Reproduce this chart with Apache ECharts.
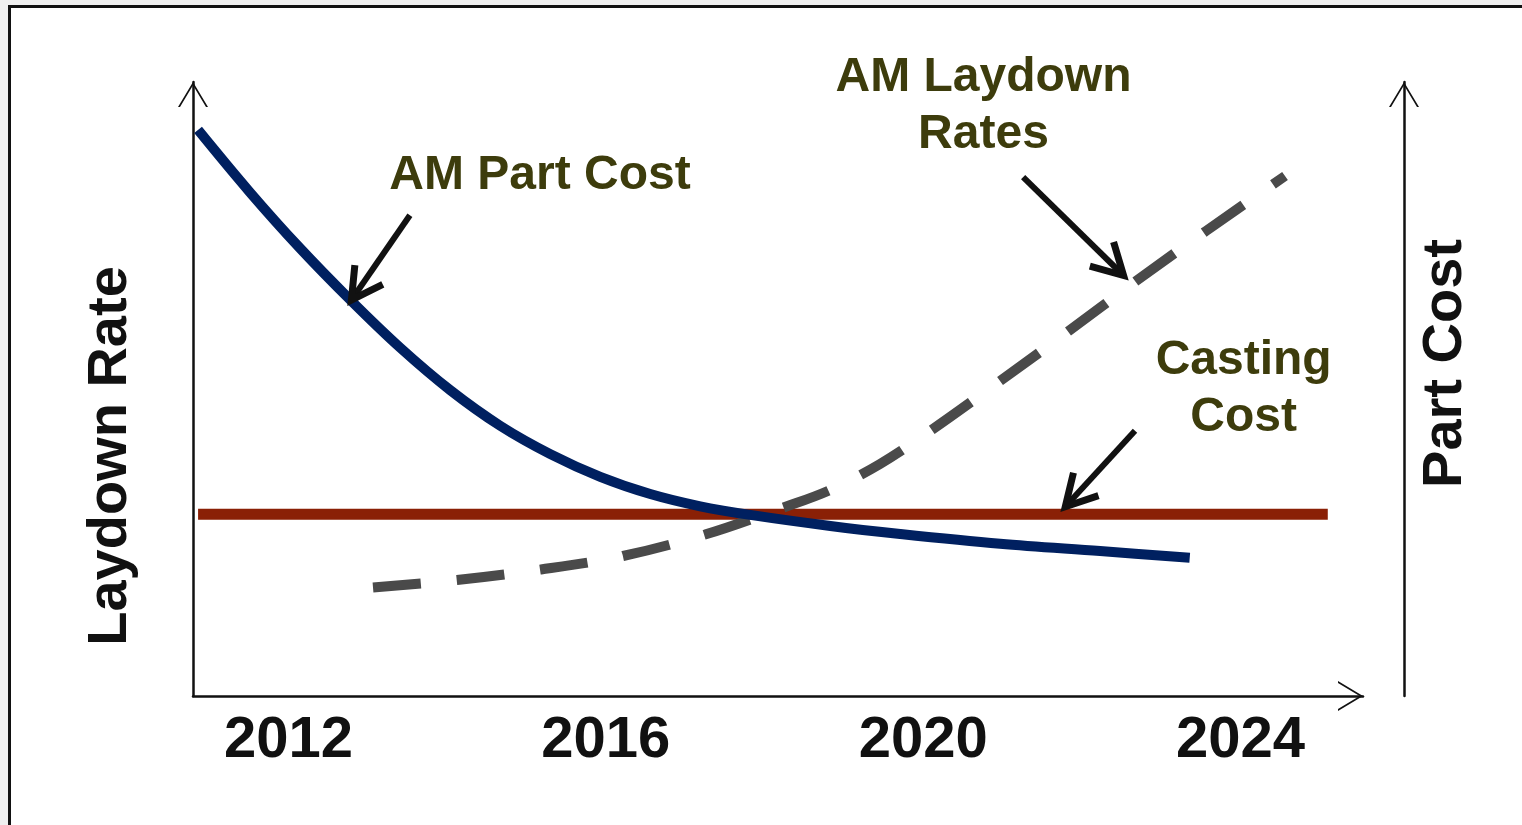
<!DOCTYPE html>
<html>
<head>
<meta charset="utf-8">
<title>Laydown Rate and Part Cost</title>
<script src="https://cdn.jsdelivr.net/npm/echarts@6/dist/echarts.min.js"></script>
<style>
  html, body { margin: 0; padding: 0; background: #efefef; overflow: hidden; }
  #frame { position: absolute; left: 8px; top: 5px; width: 1540px; height: 850px;
           border: 3px solid #111; background: #fff; }
  #chart { position: absolute; left: 0; top: 0; width: 1522px; height: 825px; }
</style>
</head>
<body>
<div id="frame"></div>
<div id="chart"></div>
<script>
// ---- data ----------------------------------------------------------------
const yearTicks = [2012, 2016, 2020, 2024];

// AM part cost: falls steeply, then levels off
const partCostYears  = [2010.86, 2011.51, 2012.14, 2012.78, 2013.41, 2014.04, 2014.67, 2015.30,
                        2015.93, 2016.56, 2017.19, 2017.82, 2018.83, 2019.71, 2020.97, 2022.23, 2023.36];
const partCostValues = [92.2, 82.1, 73.0, 64.5, 56.7, 49.8, 44.0, 39.4,
                        35.7, 32.9, 30.9, 29.5, 27.7, 26.4, 24.8, 23.6, 22.5];

// AM laydown rates: slow start, then steady climb
const laydownYears  = [2013.065, 2014.124, 2015.183, 2016.216, 2017.250, 2018.258, 2018.826,
                       2019.456, 2020.086, 2020.968, 2021.800, 2022.683, 2023.565, 2024.561];
const laydownValues = [17.67, 18.89, 20.60, 22.80, 26.30, 30.78, 33.55,
                       37.79, 43.16, 51.30, 59.12, 67.59, 75.73, 84.69];

// Casting cost: flat
const castingYears  = [2010.86, 2025.10];
const castingValues = [29.6, 29.6];

// Callout texts and where they sit (axis units)
const calloutText = ['AM Part Cost', 'AM Laydown\nRates', 'Casting\nCost'];
const calloutYear = [2015.17, 2020.76, 2024.04];
const calloutVal  = [84.8, 96.0, 50.0];

// Callout arrows: tail -> tip (axis units)
const arrowTailYear = [2013.53, 2021.26, 2022.67];
const arrowTailVal  = [78.3, 84.5, 43.2];
const arrowTipYear  = [2012.75, 2022.58, 2021.74];
const arrowTipVal   = [63.7, 67.8, 30.1];

// ---- helpers -------------------------------------------------------------
const FONT = '"Liberation Sans", Arial, Helvetica, sans-serif';
const zip = (xs, ys) => xs.map((x, i) => [x, ys[i]]);
// open chevron arrow head for the axis ends (tip at top of a 30x25 box)
const CHEVRON = 'path://M15,0 L30,25 L28,25 L15,3.33 L2,25 L0,25 Z';

const axisLineStyle = {
  show: true,
  onZero: false,
  lineStyle: { color: '#111', width: 2.5 },
  symbol: ['none', CHEVRON],
  symbolSize: [30, 25],
  symbolOffset: [0, -12.5]
};

const nameStyle = (pad) => ({
  fontSize: 56, fontWeight: 'bold', color: '#111', fontFamily: FONT, padding: pad
});

const chart = echarts.init(document.getElementById('chart'), null, { renderer: 'canvas' });

const option = {
  animation: false,
  backgroundColor: 'transparent',
  grid: { left: 193, right: 159, top: 82, bottom: 129, containLabel: false, outerBoundsMode: 'none' },
  xAxis: {
    type: 'value',
    min: 2010.796,
    max: 2025.544,
    axisLine: axisLineStyle,
    axisTick: { show: false },
    splitLine: { show: false },
    axisLabel: {
      customValues: yearTicks,
      formatter: (v) => String(Math.round(v)),
      fontSize: 58, fontWeight: 'bold', color: '#111', fontFamily: FONT,
      margin: 16
    }
  },
  yAxis: [
    {
      type: 'value', min: 0, max: 100, position: 'left',
      axisLine: axisLineStyle,
      axisTick: { show: false }, axisLabel: { show: false }, splitLine: { show: false },
      name: 'Laydown Rate', nameLocation: 'middle', nameGap: 54, nameMoveOverlap: false,
      nameTextStyle: nameStyle([0, 134, 0, 0])
    },
    {
      type: 'value', min: 0, max: 100, position: 'right', offset: 41,
      axisLine: axisLineStyle,
      axisTick: { show: false }, axisLabel: { show: false }, splitLine: { show: false },
      name: 'Part Cost', nameLocation: 'middle', nameGap: 14, nameMoveOverlap: false,
      nameTextStyle: nameStyle([0, 0, 0, 51])
    }
  ],
  series: [
    {
      name: 'Casting Cost', type: 'line', yAxisIndex: 0, clip: false,
      data: zip(castingYears, castingValues),
      showSymbol: false,
      lineStyle: { color: '#8a2006', width: 11, cap: 'butt' },
      z: 2
    },
    {
      name: 'AM Laydown Rates', type: 'line', yAxisIndex: 0, clip: false,
      data: zip(laydownYears, laydownValues),
      showSymbol: false, smooth: 0.35,
      lineStyle: { color: '#4a4a4a', width: 10, type: [48, 36], dashOffset: 0, cap: 'butt' },
      z: 3
    },
    {
      name: 'AM Part Cost', type: 'line', yAxisIndex: 0, clip: false,
      data: zip(partCostYears, partCostValues),
      showSymbol: false, smooth: 0.35,
      lineStyle: { color: '#002060', width: 10, cap: 'butt' },
      z: 4
    },
    {
      // callout arrows with open heads
      type: 'custom', yAxisIndex: 0, clip: false, silent: true, z: 5,
      data: arrowTailYear.map((y, i) => [y, arrowTailVal[i], arrowTipYear[i], arrowTipVal[i]]),
      renderItem: (params, api) => {
        const tail = api.coord([api.value(0), api.value(1)]);
        const tip = api.coord([api.value(2), api.value(3)]);
        const ang = Math.atan2(tail[1] - tip[1], tail[0] - tip[0]);
        const back = 6;
        const v = [tip[0] + back * Math.cos(ang), tip[1] + back * Math.sin(ang)];
        const L = 35, spread = 29 * Math.PI / 180;
        const b1 = [v[0] + L * Math.cos(ang + spread), v[1] + L * Math.sin(ang + spread)];
        const b2 = [v[0] + L * Math.cos(ang - spread), v[1] + L * Math.sin(ang - spread)];
        return {
          type: 'group',
          children: [
            { type: 'line', shape: { x1: tail[0], y1: tail[1], x2: v[0], y2: v[1] },
              style: { stroke: '#111', lineWidth: 6 } },
            { type: 'polyline', shape: { points: [b1, v, b2] },
              style: { stroke: '#111', fill: null, lineWidth: 7, lineJoin: 'miter' } }
          ]
        };
      }
    },
    {
      // callout texts
      type: 'custom', yAxisIndex: 0, clip: false, silent: true, z: 6,
      data: calloutYear.map((y, i) => [y, calloutVal[i]]),
      renderItem: (params, api) => {
        const p = api.coord([api.value(0), api.value(1)]);
        return {
          type: 'text', x: p[0], y: p[1],
          style: {
            text: calloutText[params.dataIndex],
            fill: '#3d3c0c',
            fontSize: 48, fontWeight: 'bold', fontFamily: FONT,
            align: 'center', verticalAlign: 'middle', lineHeight: 57
          }
        };
      }
    }
  ]
};

chart.setOption(option);
</script>
</body>
</html>
